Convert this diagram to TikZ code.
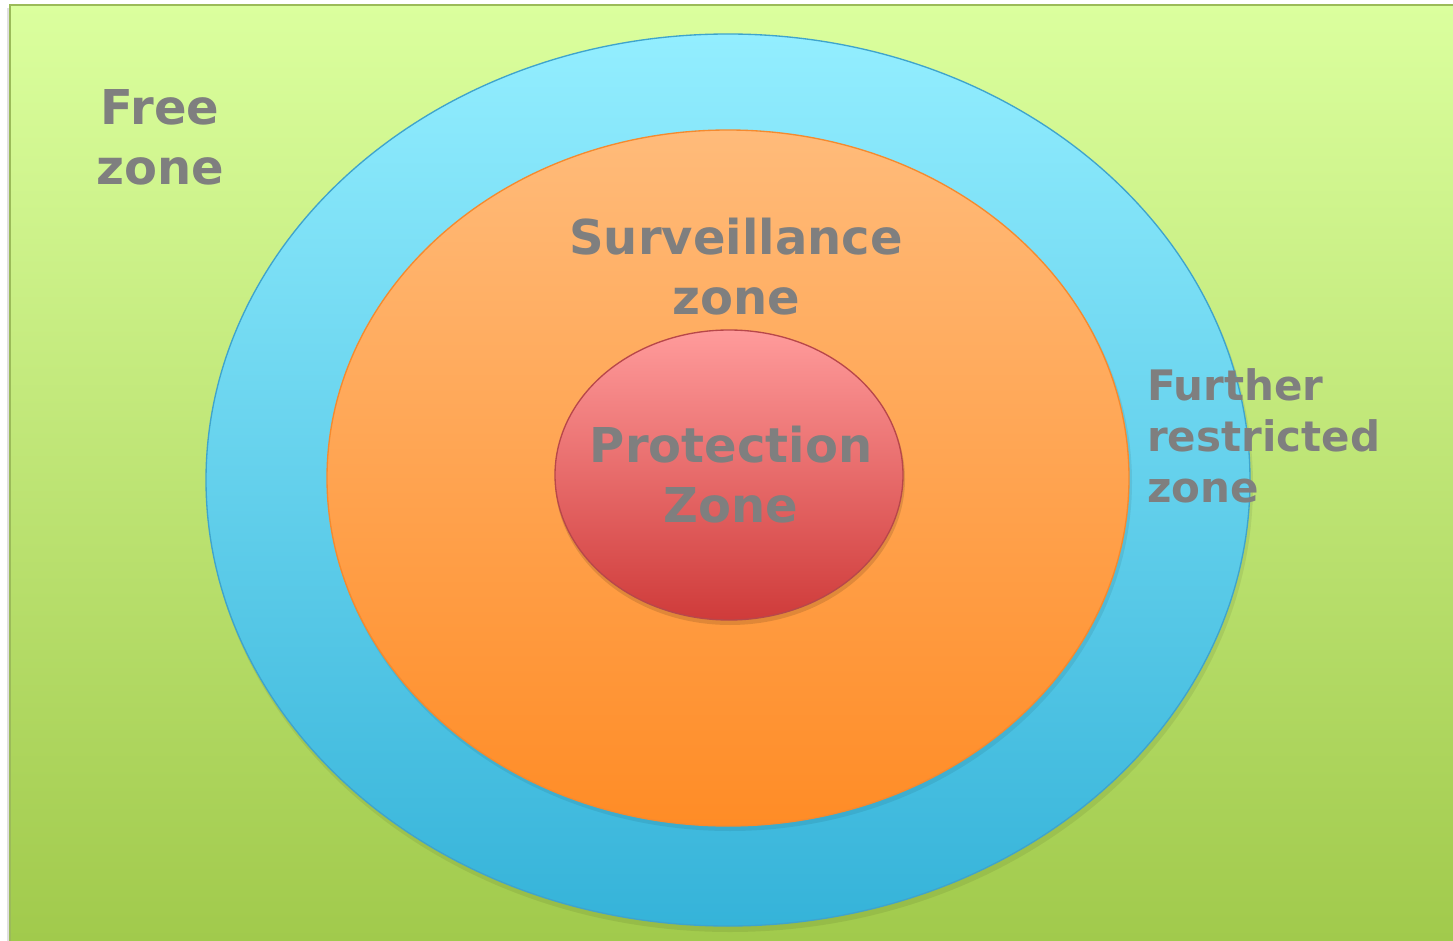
\documentclass[tikz,border=0pt]{standalone}
\usepackage{fontspec}
\setmainfont{DejaVu Sans}
\definecolor{txtgray}{HTML}{7F7F7F}
\definecolor{grtop}{HTML}{DBFF9E}
\definecolor{grbot}{HTML}{A1CA4C}
\definecolor{grline}{HTML}{9BBB59}
\definecolor{bltop}{HTML}{93EEFF}
\definecolor{blbot}{HTML}{35B3D9}
\definecolor{blline}{HTML}{3FA4CC}
\definecolor{ortop}{HTML}{FFBB7A}
\definecolor{orbot}{HTML}{FF8C26}
\definecolor{orline}{HTML}{F58A2E}
\definecolor{rdtop}{HTML}{FF9B9B}
\definecolor{rdbot}{HTML}{CF3B3A}
\definecolor{rdline}{HTML}{B8474A}
\tikzset{
  zonelabel/.style={text=txtgray, font=\fontsize{36}{45}\selectfont\bfseries, align=center, inner sep=0pt},
  smalllabel/.style={text=txtgray, font=\fontsize{31.5}{38.5}\selectfont\bfseries, align=left, inner sep=0pt},
}
\begin{document}
\begin{tikzpicture}[x=0.75pt,y=-0.75pt]
\useasboundingbox (0,0) rectangle (1453,941);
% background
\fill[black!12] (7,8) rectangle (10,941);
\shade[top color=grtop, bottom color=grbot] (10,5) rectangle (1453,941);
\draw[grline, line width=1.5pt] (10,941) -- (10,5) -- (1453,5);
% shadows
\fill[black, opacity=0.07] (730,485) ellipse [x radius=523, y radius=447];
\shade[top color=bltop, bottom color=blbot, draw=blline, line width=1pt] (728,480) ellipse [x radius=522, y radius=446];
\fill[black, opacity=0.07] (730,482) ellipse [x radius=402, y radius=349];
\shade[top color=ortop, bottom color=orbot, draw=orline, line width=1pt] (728,478) ellipse [x radius=401, y radius=348];
\fill[black, opacity=0.12] (730,479) ellipse [x radius=175, y radius=146];
\shade[top color=rdtop, bottom color=rdbot, draw=rdline, line width=1pt] (729,475) ellipse [x radius=174, y radius=145];
% labels
\node[zonelabel] (free) at (160,137) {Free\\zone};
\node[zonelabel] (surv) at (736,267) {Surveillance\\zone};
\node[zonelabel] (prot) at (731,475) {Protection\\Zone};
\node[smalllabel, anchor=west] (further) at (1147,436) {Further\\restricted\\zone};
\end{tikzpicture}
\end{document}
